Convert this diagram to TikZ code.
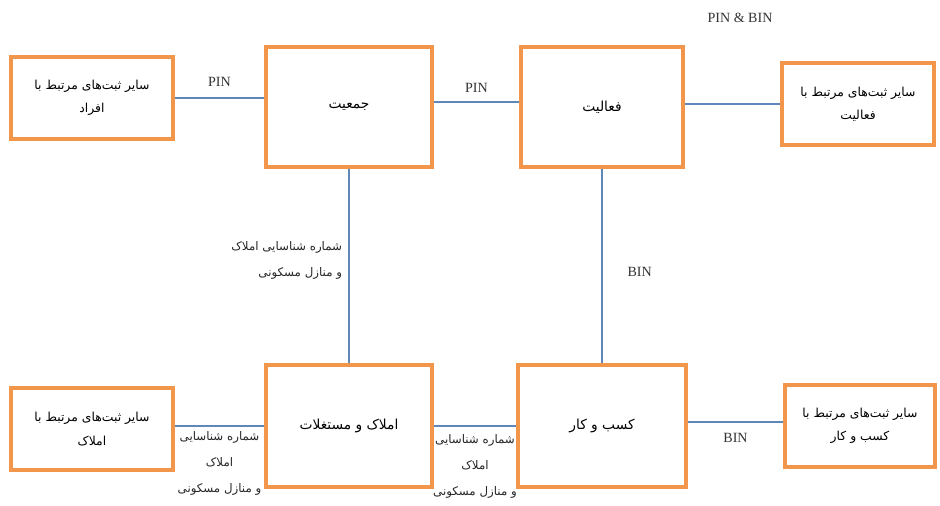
\documentclass[tikz,border=0pt]{standalone}
\usepackage{fontspec}
\setmainfont{Liberation Serif}
\newfontfamily\arabicfont[Script=Arabic]{DejaVu Sans}
\TeXXeTstate=1
\usetikzlibrary{positioning,calc}

\definecolor{boxorange}{RGB}{242,150,75}
\definecolor{linkblue}{RGB}{95,135,185}
\newcommand{\fa}[1]{{\arabicfont\beginR #1\endR}}

\begin{document}
\begin{tikzpicture}[
  x=0.025cm,y=-0.025cm,
  regbox/.style={rectangle,draw=boxorange,line width=2.2pt,fill=white,align=center,
    font=\fontsize{8.8}{16.5}\selectfont},
  link/.style={draw=linkblue,line width=1.2pt},
  lbl/.style={font=\fontsize{10}{12}\selectfont,text=black!80},
  falbl/.style={font=\fontsize{8.4}{18.5}\selectfont,align=center,text=black!85},
]
\useasboundingbox (0,0) rectangle (940,506);

% Upper row
\node[regbox,minimum width=4.05cm,minimum height=2.05cm] (persons) at (92,98) {\fa{سایر ثبت‌های مرتبط با}\\ \fa{افراد}};
\node[regbox,minimum width=4.15cm,minimum height=3cm,font=\fontsize{9.8}{16}\selectfont] (population) at (349,107) {\fa{جمعیت}};
\node[regbox,minimum width=4.05cm,minimum height=3cm,font=\fontsize{9.8}{16}\selectfont] (activity) at (602,107) {\fa{فعالیت}};
\node[regbox,minimum width=3.8cm,minimum height=2.05cm] (actrecs) at (858,104) {\fa{سایر ثبت‌های مرتبط با}\\ \fa{فعالیت}};

% Lower row
\node[regbox,minimum width=4.05cm,minimum height=2.05cm] (proprecs) at (92,429) {\fa{سایر ثبت‌های مرتبط با}\\ \fa{املاک}};
\node[regbox,minimum width=4.15cm,minimum height=3.05cm,font=\fontsize{9.8}{16}\selectfont] (property) at (349,426) {\fa{املاک و مستغلات}};
\node[regbox,minimum width=4.2cm,minimum height=3.05cm,font=\fontsize{9.8}{16}\selectfont] (business) at (602,426) {\fa{کسب و کار}};
\node[regbox,minimum width=3.75cm,minimum height=2.05cm] (busrecs) at (860,426) {\fa{سایر ثبت‌های مرتبط با}\\ \fa{کسب و کار}};

% Links
\draw[link] (persons.east) -- node[lbl,above=4pt]{PIN} (persons.east -| population.west);
\draw[link] ($(population.east)+(0,-5)$) -- node[lbl,above=3pt]{PIN} ($(activity.west)+(0,-5)$);
\draw[link] (activity.east |- actrecs) -- (actrecs.west);
\draw[link] (population.south) -- node[falbl,left=1pt,align=right,yshift=0.15cm]{\fa{شماره شناسایی املاک}\\ \fa{و منازل مسکونی}} (property.north);
\draw[link] (activity.south) -- node[lbl,right=0.5cm,yshift=-0.15cm]{BIN} (business.north);
\draw[link] (proprecs.east |- property) -- node[falbl,below=0pt]{\fa{شماره شناسایی}\\ \fa{املاک}\\ \fa{و منازل مسکونی}} (property.west);
\draw[link] (property.east) -- node[falbl,below=2pt]{\fa{شماره شناسایی}\\ \fa{املاک}\\ \fa{و منازل مسکونی}} (business.west);
\draw[link] ($(business.east)+(0,-4)$) -- node[lbl,below=4pt]{BIN} ($(busrecs.west)+(0,-4)$);

\node[lbl] (pinbin) at (740,18) {PIN \& BIN};

\end{tikzpicture}
\end{document}
